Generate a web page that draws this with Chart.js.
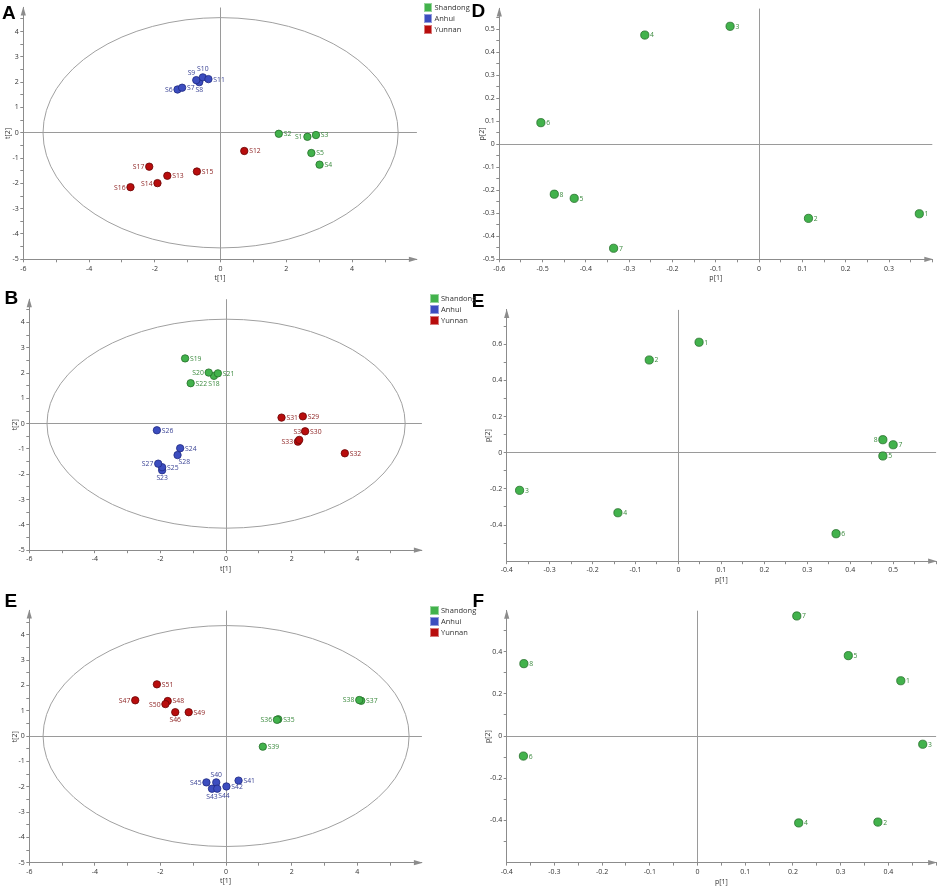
<!DOCTYPE html>
<html><head><meta charset="utf-8">
<script src="https://cdn.jsdelivr.net/npm/chart.js@4.4.1/dist/chart.umd.min.js"></script>
<style>
html,body{margin:0;padding:0;background:#fff;width:941px;height:887px;overflow:hidden;position:relative;}
canvas{position:absolute;}
.letter{position:absolute;font:bold 19px "Liberation Sans",Arial,sans-serif;line-height:19px;color:#000;}
.leg{position:absolute;font:7.5px "Open Sans",sans-serif;color:#333;}
.leg div{height:11.2px;line-height:8.5px;position:relative;padding-left:11px;white-space:nowrap;}
.leg span{position:absolute;left:0;top:0;width:8.5px;height:8.5px;box-sizing:border-box;border:0.7px solid rgba(255,255,255,0.45);}
</style></head><body>
<canvas id="cA" width="424" height="290" style="left:0;top:0"></canvas>
<canvas id="cD" width="471" height="290" style="left:470px;top:0"></canvas>
<canvas id="cB" width="430" height="300" style="left:0;top:290px"></canvas>
<canvas id="cE2" width="471" height="300" style="left:470px;top:290px"></canvas>
<canvas id="cE1" width="430" height="297" style="left:0;top:590px"></canvas>
<canvas id="cF" width="471" height="297" style="left:470px;top:590px"></canvas>

<div class="letter" style="left:2px;top:2.5px">A</div>
<div class="letter" style="left:471.5px;top:1px">D</div>
<div class="letter" style="left:4.5px;top:288px">B</div>
<div class="letter" style="left:471.8px;top:290.8px">E</div>
<div class="letter" style="left:4.5px;top:590.8px">E</div>
<div class="letter" style="left:472.5px;top:590.5px">F</div>

<div id="legA" class="leg" style="left:423.5px;top:3px"></div>
<div id="legB" class="leg" style="left:430px;top:294px"></div>
<div id="legE1" class="leg" style="left:430px;top:606px"></div>

<script>
// ---------- data ----------
const groups = ['Shandong', 'Anhui', 'Yunnan'];

// Panel A (scores)
const aShandongNames = ['S1','S2','S3','S4','S5'];
const aShandongT1 = [2.64, 1.77, 2.90, 3.01, 2.76];
const aShandongT2 = [-0.16, -0.04, -0.09, -1.26, -0.80];
const aAnhuiNames = ['S6','S7','S8','S9','S10','S11'];
const aAnhuiT1 = [-1.31, -1.17, -0.65, -0.74, -0.54, -0.37];
const aAnhuiT2 = [1.71, 1.78, 2.00, 2.08, 2.19, 2.12];
const aYunnanNames = ['S12','S13','S14','S15','S16','S17'];
const aYunnanT1 = [0.72, -1.62, -1.92, -0.72, -2.74, -2.17];
const aYunnanT2 = [-0.72, -1.70, -1.99, -1.53, -2.15, -1.34];
const aEllipse = [5.40, 4.55];

// Panel B (scores)
const bShandongNames = ['S18','S19','S20','S21','S22'];
const bShandongT1 = [-0.37, -1.25, -0.53, -0.25, -1.08];
const bShandongT2 = [1.89, 2.58, 2.02, 1.99, 1.60];
const bAnhuiNames = ['S23','S24','S25','S26','S27','S28'];
const bAnhuiT1 = [-1.95, -1.40, -1.95, -2.11, -2.07, -1.48];
const bAnhuiT2 = [-1.84, -0.97, -1.72, -0.26, -1.58, -1.24];
const bYunnanNames = ['S29','S30','S31','S32','S33','S34'];
const bYunnanT1 = [2.34, 2.41, 1.69, 3.62, 2.19, 2.23];
const bYunnanT2 = [0.29, -0.30, 0.24, -1.17, -0.71, -0.64];
const bEllipse = [5.46, 4.13];

// Panel E, left (scores)
const eShandongNames = ['S35','S36','S37','S38','S39'];
const eShandongT1 = [1.59, 1.55, 4.12, 4.06, 1.12];
const eShandongT2 = [0.66, 0.64, 1.39, 1.42, -0.42];
const eAnhuiNames = ['S40','S41','S42','S43','S44','S45'];
const eAnhuiT1 = [-0.30, 0.38, 0.01, -0.43, -0.27, -0.60];
const eAnhuiT2 = [-1.83, -1.76, -1.99, -2.08, -2.08, -1.83];
const eYunnanNames = ['S46','S47','S48','S49','S50','S51'];
const eYunnanT1 = [-1.55, -2.77, -1.78, -1.14, -1.85, -2.11];
const eYunnanT2 = [0.94, 1.41, 1.38, 0.94, 1.26, 2.04];
const eEllipse = [5.58, 4.36];

// Loadings
const loadNames = ['1','2','3','4','5','6','7','8'];
const dP1 = [0.370, 0.114, -0.067, -0.264, -0.427, -0.504, -0.336, -0.473];
const dP2 = [-0.302, -0.322, 0.513, 0.475, -0.235, 0.094, -0.452, -0.217];
const e2P1 = [0.048, -0.068, -0.370, -0.141, 0.476, 0.367, 0.500, 0.476];
const e2P2 = [0.611, 0.513, -0.208, -0.332, -0.018, -0.448, 0.044, 0.072];
const fP1 = [0.426, 0.378, 0.472, 0.212, 0.316, -0.365, 0.208, -0.364];
const fP2 = [0.262, -0.408, -0.039, -0.412, 0.381, -0.095, 0.569, 0.343];

// ---------- styles ----------
const COL = {
  Shandong: {fill:'#42b24c', border:'#246e2a', text:'#3b8a3e'},
  Anhui:    {fill:'#3c4dbf', border:'#1f2a82', text:'#3a4395'},
  Yunnan:   {fill:'#b80d0d', border:'#6a0505', text:'#8e2424'}
};
const labelSidesA = {S1:'l',S6:'l',S8:'b',S9:'tl',S10:'t',S14:'l',S16:'l',S17:'l'};
const labelSidesB = {S18:'b',S20:'l',S23:'b',S27:'l',S28:'br',S33:'l',S34:'t'};
const labelSidesE = {S36:'l',S38:'l',S40:'t',S43:'b',S44:'br',S45:'l',S46:'b',S47:'l',S50:'l'};
const labelSidesE2 = {'8':'l'};

const FONT = '"Open Sans", sans-serif';

// ---------- plugins ----------
const ellipsePlugin = {
  id: 'ellipse',
  beforeDatasetsDraw(chart, args, o) {
    if (!o || !o.r) return;
    const xs = chart.scales.x, ys = chart.scales.y, c = chart.ctx;
    const cx = xs.getPixelForValue(0), cy = ys.getPixelForValue(0);
    const rx = Math.abs(xs.getPixelForValue(o.r[0]) - cx);
    const ry = Math.abs(ys.getPixelForValue(o.r[1]) - cy);
    c.save();
    c.strokeStyle = '#a0a0a0'; c.lineWidth = 1;
    c.beginPath(); c.ellipse(cx, cy, rx, ry, 0, 0, Math.PI * 2); c.stroke();
    c.restore();
  }
};
const labelPlugin = {
  id: 'ptLabels',
  beforeDatasetsDraw(chart, args, o) {
    const c = chart.ctx; c.save();
    c.font = '6.8px ' + FONT;
    const sides = (o && o.sides) || {};
    chart.data.datasets.forEach((d, di) => {
      const meta = chart.getDatasetMeta(di);
      meta.data.forEach((el, i) => {
        const name = d.data[i].name, side = sides[name] || 'r';
        const rr = d.pointRadius + 1.2;
        const x = el.x, y = el.y;
        c.fillStyle = d.labelColor;
        if (side === 'r') { c.textAlign = 'left'; c.textBaseline = 'middle'; c.fillText(name, x + rr, y + 0.5); }
        else if (side === 'l') { c.textAlign = 'right'; c.textBaseline = 'middle'; c.fillText(name, x - rr, y + 0.5); }
        else if (side === 't') { c.textAlign = 'center'; c.textBaseline = 'bottom'; c.fillText(name, x, y - rr + 0.5); }
        else if (side === 'b') { c.textAlign = 'center'; c.textBaseline = 'top'; c.fillText(name, x, y + rr); }
        else if (side === 'tl') { c.textAlign = 'right'; c.textBaseline = 'bottom'; c.fillText(name, x - 1, y - rr + 1); }
        else if (side === 'br') { c.textAlign = 'left'; c.textBaseline = 'top'; c.fillText(name, x + 1, y + rr - 1); }
      });
    });
    c.restore();
  }
};
const arrowPlugin = {
  id: 'arrows',
  afterDraw(chart) {
    const {left, top, right, bottom} = chart.chartArea, c = chart.ctx;
    c.save(); c.fillStyle = '#8c8c8c';
    c.beginPath(); c.moveTo(left, top - 1); c.lineTo(left - 2.6, top + 8); c.lineTo(left + 2.6, top + 8); c.closePath(); c.fill();
    c.beginPath(); c.moveTo(right + 1, bottom); c.lineTo(right - 8, bottom - 2.6); c.lineTo(right - 8, bottom + 2.6); c.closePath(); c.fill();
    c.restore();
  }
};

// ---------- builders ----------
function scoreSet(group, names, xs, ys) {
  return {
    label: group,
    data: xs.map((x, i) => ({x: x, y: ys[i], name: names[i]})),
    backgroundColor: COL[group].fill, borderColor: COL[group].border,
    borderWidth: 0.8, pointRadius: 3.7, pointHoverRadius: 3.7,
    labelColor: COL[group].text
  };
}
function loadSet(names, xs, ys) {
  return {
    label: 'loadings',
    data: xs.map((x, i) => ({x: x, y: ys[i], name: names[i]})),
    backgroundColor: COL.Shandong.fill, borderColor: COL.Shandong.border,
    borderWidth: 0.8, pointRadius: 4.1, pointHoverRadius: 4.1,
    labelColor: COL.Shandong.text
  };
}
function axis(min, max, minor, major, sizeFit, title, titlePad, isX) {
  const dec = major < 1 ? 1 : 0;
  return {
    type: 'linear', position: isX ? 'bottom' : 'left', min: min, max: max, offset: false,
    afterFit(s) { if (isX) s.height = sizeFit; else s.width = sizeFit; },
    grid: {
      display: true, drawOnChartArea: true, drawTicks: true, tickLength: 3,
      color: (ctx) => (ctx.tick && Math.abs(ctx.tick.value) < 1e-9) ? '#9a9a9a' : 'rgba(0,0,0,0)',
      tickColor: '#8a8a8a', lineWidth: 1
    },
    border: {display: true, color: '#8c8c8c', width: 1},
    ticks: {
      stepSize: minor, autoSkip: false, includeBounds: false, maxRotation: 0,
      padding: isX ? 2 : 1.5, color: '#333', font: {family: FONT, size: 7},
      callback: (v) => {
        const k = v / major;
        if (Math.abs(k - Math.round(k)) > 1e-6) return '';
        if (v > max - 0.5 * major) return '';
        return String(parseFloat(v.toFixed(dec)));
      }
    },
    title: {display: true, text: title, color: '#333', font: {family: FONT, size: 7},
      padding: isX ? {top: 0, bottom: titlePad} : {top: titlePad, bottom: 0}}
  };
}
function makePanel(id, W, H, area, xr, yr, xt, yt, titleX, titleY, datasets, ellipseR, sides) {
  new Chart(document.getElementById(id), {
    type: 'scatter',
    data: {datasets: datasets},
    options: {
      responsive: false, animation: false, events: [],
      layout: {padding: {left: 0, top: area.top, right: W - area.right, bottom: 0}},
      scales: {
        x: axis(xr[0], xr[1], xr[2], xr[3], H - area.bottom, xt, H - 4.2 - titleY, true),
        y: axis(yr[0], yr[1], yr[2], yr[3], area.left, yt, titleX - 4.2, false)
      },
      plugins: {
        legend: {display: false}, tooltip: {enabled: false},
        ellipse: {r: ellipseR}, ptLabels: {sides: sides || {}}
      }
    },
    plugins: [ellipsePlugin, labelPlugin, arrowPlugin]
  });
}

// Panel A
makePanel('cA', 424, 290, {left: 23.3, top: 7.5, right: 416.9, bottom: 259.3},
  [-6, 5.97, 1, 2], [-5, 4.95, 0.5, 1], 't[1]', 't[2]', 8, 277.5,
  [scoreSet('Shandong', aShandongNames, aShandongT1, aShandongT2),
   scoreSet('Anhui', aAnhuiNames, aAnhuiT1, aAnhuiT2),
   scoreSet('Yunnan', aYunnanNames, aYunnanT1, aYunnanT2)], aEllipse, labelSidesA);

// Panel D
makePanel('cD', 471, 290, {left: 29.3, top: 8.6, right: 462.3, bottom: 259.3},
  [-0.6, 0.4, 0.05, 0.1], [-0.5, 0.59, 0.05, 0.1], 'p[1]', 'p[2]', 11.7, 278.3,
  [loadSet(loadNames, dP1, dP2)], null, {});

// Panel B
makePanel('cB', 430, 300, {left: 29.3, top: 9.2, right: 421.9, bottom: 260.2},
  [-6, 5.97, 1, 2], [-5, 4.92, 0.5, 1], 't[1]', 't[2]', 15, 278.7,
  [scoreSet('Shandong', bShandongNames, bShandongT1, bShandongT2),
   scoreSet('Anhui', bAnhuiNames, bAnhuiT1, bAnhuiT2),
   scoreSet('Yunnan', bYunnanNames, bYunnanT1, bYunnanT2)], bEllipse, labelSidesB);

// Panel E (right, loadings)
makePanel('cE2', 471, 300, {left: 36.7, top: 19.9, right: 468.9, bottom: 271.2},
  [-0.4, 0.6, 0.05, 0.1], [-0.6, 0.79, 0.1, 0.2], 'p[1]', 'p[2]', 18.3, 290,
  [loadSet(loadNames, e2P1, e2P2)], null, labelSidesE2);

// Panel E (left, scores)
makePanel('cE1', 430, 297, {left: 29.3, top: 20.6, right: 421.9, bottom: 272.7},
  [-6, 5.97, 1, 2], [-5, 4.95, 0.5, 1], 't[1]', 't[2]', 15, 291,
  [scoreSet('Shandong', eShandongNames, eShandongT1, eShandongT2),
   scoreSet('Anhui', eAnhuiNames, eAnhuiT1, eAnhuiT2),
   scoreSet('Yunnan', eYunnanNames, eYunnanT1, eYunnanT2)], eEllipse, labelSidesE);

// Panel F
makePanel('cF', 471, 297, {left: 36.7, top: 20.7, right: 469.1, bottom: 272.6},
  [-0.4, 0.5, 0.05, 0.1], [-0.6, 0.594, 0.1, 0.2], 'p[1]', 'p[2]', 18.3, 291.7,
  [loadSet(loadNames, fP1, fP2)], null, {});

// Legends
['legA', 'legB', 'legE1'].forEach(id => {
  const el = document.getElementById(id);
  groups.forEach(g => {
    const row = document.createElement('div');
    const sw = document.createElement('span');
    sw.style.background = COL[g].fill;
    row.appendChild(sw);
    row.appendChild(document.createTextNode(g));
    el.appendChild(row);
  });
});
</script>
</body></html>
